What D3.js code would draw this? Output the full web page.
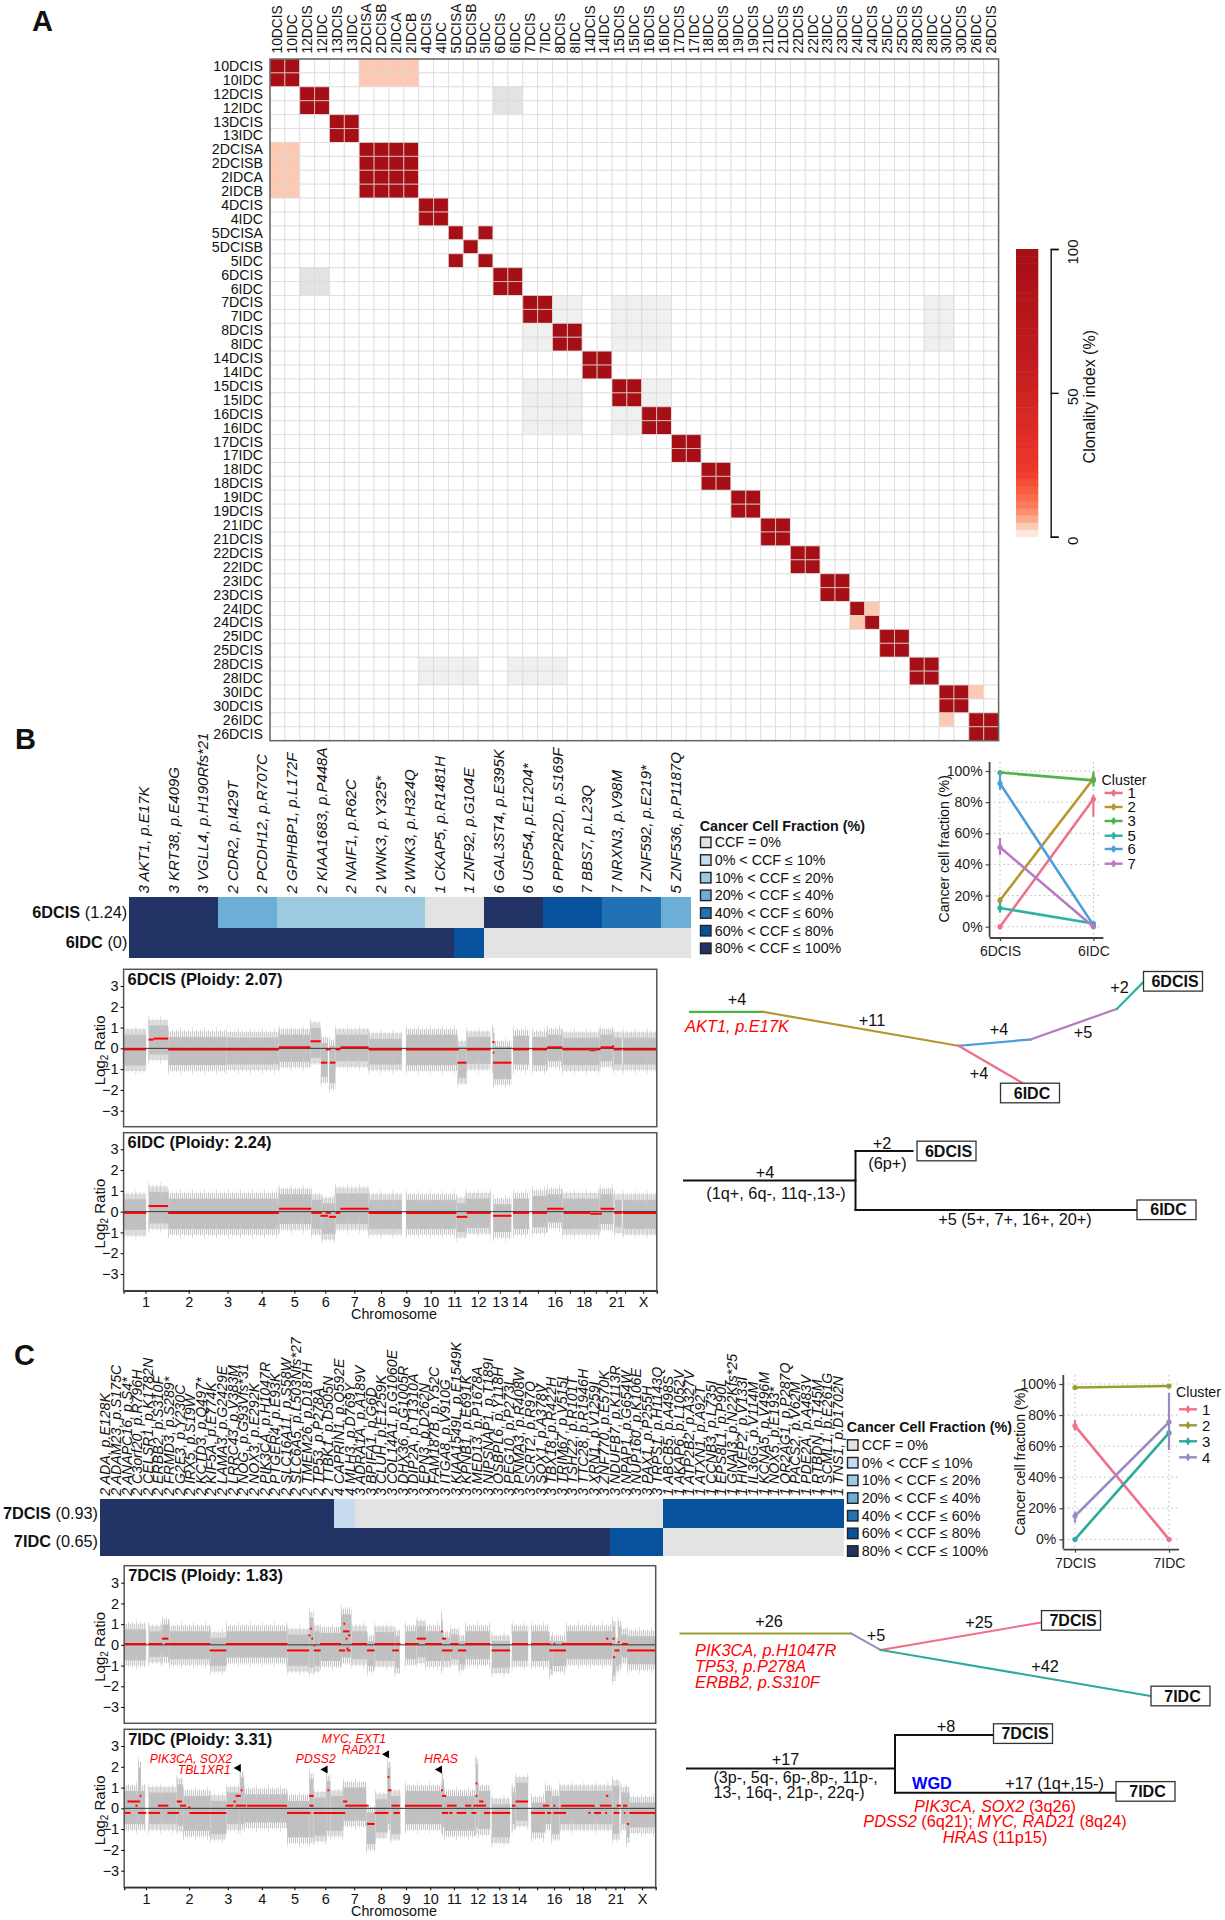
<!DOCTYPE html>
<html>
<head>
<meta charset="utf-8">
<script src="https://cdn.jsdelivr.net/npm/d3@7"></script>
<style>
  body { margin: 0; background: #fff; }
  text { font-family: "Liberation Sans", Arial, sans-serif; fill: #111; }
</style>
</head>
<body>
<div id="fig"></div>
<script>
// ---- panel A data
const heatSamples = ['10DCIS','10IDC','12DCIS','12IDC','13DCIS','13IDC','2DCISA','2DCISB','2IDCA','2IDCB','4DCIS','4IDC','5DCISA','5DCISB','5IDC','6DCIS','6IDC','7DCIS','7IDC','8DCIS','8IDC','14DCIS','14IDC','15DCIS','15IDC','16DCIS','16IDC','17DCIS','17IDC','18IDC','18DCIS','19IDC','19DCIS','21IDC','21DCIS','22DCIS','22IDC','23IDC','23DCIS','24IDC','24DCIS','25IDC','25DCIS','28DCIS','28IDC','30IDC','30DCIS','26IDC','26DCIS']
// [first row, last row, first col, last col, clonality index]
const heatValues = [
  [0,1,0,1,100],[2,3,2,3,100],[4,5,4,5,100],[6,9,6,9,100],[10,11,10,11,100],[12,12,12,12,100],[13,13,13,13,100],[14,14,14,14,100],
  [15,16,15,16,100],[17,18,17,18,100],[19,20,19,20,100],[21,22,21,22,100],[23,24,23,24,100],[25,26,25,26,100],[27,28,27,28,100],
  [29,30,29,30,100],[31,32,31,32,100],[33,34,33,34,100],[35,36,35,36,100],[37,38,37,38,100],[39,39,39,39,100],[40,40,40,40,100],
  [41,42,41,42,100],[43,44,43,44,100],[45,46,45,46,100],[47,48,47,48,100],
  [12,12,14,14,95],[14,14,12,12,95],
  [0,1,6,9,4],[6,9,0,1,4],[39,39,40,40,4],[40,40,39,39,4],[45,45,47,47,4],[47,47,45,45,4]
]
const heatGreyDark = [[2,3,15,16],[15,16,2,3]]
const heatGreyLight = [[17,18,19,20],[19,20,17,18],[17,20,23,26],[23,26,17,20],[23,24,25,26],[25,26,23,24],[17,20,44,45],[43,44,10,13],[43,44,16,19]]
const clonalityStops = [0,2,4,8,14,22,32,60,100]
const clonalityTicks = [0,50,100]

// ---- panel B data
const ccfLevels = ['CCF = 0%','0% < CCF ≤ 10%','10% < CCF ≤ 20%','20% < CCF ≤ 40%','40% < CCF ≤ 60%','60% < CCF ≤ 80%','80% < CCF ≤ 100%']
const genesB = ['3 AKT1, p.E17K','3 KRT38, p.E409G','3 VGLL4, p.H190Rfs*21','2 CDR2, p.I429T','2 PCDH12, p.R707C','2 GPIHBP1, p.L172F','2 KIAA1683, p.P448A','2 NAIF1, p.R62C','2 WNK3, p.Y325*','2 WNK3, p.H324Q','1 CKAP5, p.R1481H','1 ZNF92, p.G104E','6 GAL3ST4, p.E395K','6 USP54, p.E1204*','6 PPP2R2D, p.S169F','7 BBS7, p.L23Q','7 NRXN3, p.V98M','7 ZNF592, p.E219*','5 ZNF536, p.P1187Q']
const ccfB6DCIS = [6,6,6,3,3,2,2,2,2,2,0,0,6,6,5,5,4,4,3]
const ccfB6IDC  = [6,6,6,6,6,6,6,6,6,6,6,5,0,0,0,0,0,0,0]

const clusterB = ['1','2','3','5','6','7']
const cfB6DCIS = [0,17,99,12,92,51]
const cfB6IDC  = [82,95,94,2,1,0]
const cfB6DCISerr = [[0,0],[15,19],[97,100],[9,16],[88,100],[46,57]]
const cfB6IDCerr  = [[70.7,84.6],[92,98],[90,99.6],[1,3],[0,3],[0,1]]

// ---- panel C data
const genesC = ['2 ADA, p.E128K','2 ADAM23, p.S175C','2 ANAPC16, p.S4*','2 C3orf20, p.R796H','2 CELSR1, p.K1782N','2 ERBB2, p.S310F','2 FRMD3, p.S289*','2 G2E3, p.Y230C','2 IRX5, p.S19W','2 KCTD3, p.Q497*','2 KIF5A, p.E774K','2 LAMA3, p.G2429E','2 LRRC43, p.V383M','2 NOG, p.G93Vfs*31','2 NOX3, p.E292K','2 PIK3CA, p.H1047R','2 PTGER4, p.E93K','2 SLC16A11, p.S58W','2 SLC6A5, p.L503Nfs*27','2 TMEM26, p.D187H','2 TP53, p.P278A','2 TTBK1, p.D505N','4 CAPRIN1, p.Q592E','4 MLH3, p.D769Y','3 ADRA1A, p.A189V','3 BPIFA1, p.G6D','3 CLUH, p.E1259K','3 COL14A1, p.G1060E','3 DHX36, p.G1005R','3 DIP2A, p.T1310A','3 EPN3, p.D262N','3 FAM187B, p.Y52C','3 ITGA8, p.V910G','3 KIAA1549L, p.E1549K','3 KPNB1, p.E691K','3 MED13, p.P1678A','3 NIPSNAP1, p.T189I','3 OSBPL6, p.Y118H','3 PEG10, p.P273L','3 PNMA3, p.R408W','3 SCRT2, p.R97Q','3 SOX1, p.A378V','3 TBX18, p.R422H','3 TRIM67, p.V515I','3 TSHZ2, p.R101T','3 TTC28, p.R1946H','3 XRN1, p.V1259I','3 ZNF770, p.E570K','3 NDUFB7, p.K113R','3 NPAP1, p.G654W','3 NUP160, p.K106E','3 PAX1, p.P255H','3 TRPS1, p.H1143Q','1 ABCB5, p.A498S','1 AKAP6, p.L1052V','1 ATP2B2, p.A327V','1 ATXN1, p.A92T','1 CCNB3, p.L735I','1 EPS8L1, p.P90L','1 GNAI3, p.N22Kfs*25','1 HIVEP2, p.V133I','1 IL36G, p.V114M','1 KCNA5, p.V496M','1 NOX5, p.E193*','1 OR2AG1, p.P287Q','1 PACS2, p.V62M','1 PDE2A, p.A483V','1 RTBDN, p.T45M','1 SCML1, p.E261G','1 TNS1, p.D1702N']
const ccfC7DCIS = [6,6,6,6,6,6,6,6,6,6,6,6,6,6,6,6,6,6,6,6,6,6,1,1,0,0,0,0,0,0,0,0,0,0,0,0,0,0,0,0,0,0,0,0,0,0,0,0,0,0,0,0,0,5,5,5,5,5,5,5,5,5,5,5,5,5,5,5,5,5]
const ccfC7IDC  = [6,6,6,6,6,6,6,6,6,6,6,6,6,6,6,6,6,6,6,6,6,6,6,6,6,6,6,6,6,6,6,6,6,6,6,6,6,6,6,6,6,6,6,6,6,6,6,6,5,5,5,5,5,0,0,0,0,0,0,0,0,0,0,0,0,0,0,0,0,0]

const clusterC = ['1','2','3','4']
const cfC7DCIS = [73,97.7,0,15]
const cfC7IDC  = [0,98.7,68.5,75.5]
const cfC7DCISerr = [[70,77],[96.5,98.5],[0,0],[10.7,17.8]]
const cfC7IDCerr  = [[0,0],[98,99.5],[66,70],[57.5,94.4]]

// ---- copy number data, positions are genome Mb
const chromNames = ['1','2','3','4','5','6','7','8','9','10','11','12','13','14','15','16','17','18','19','20','21','22','X']
const chromLengths = [249,243,198,191,181,171,159,146,141,135,135,134,115,107,103,90,81,78,59,63,48,51,155]
const chromShown = ['1','2','3','4','5','6','7','8','9','10','11','12','13','14','16','18','21','X']
const log2Ticks = [-3,-2,-1,0,1,2,3]

// [start, end, low, high] extent of the probe cloud
const cloud6DCIS = [[0,128,-.95,.78],[142,253,-.42,1.22],[253,584,-.93,.67],[584,883,-.9,.64],[883,1063,-.77,.78],[1063,1122,-.58,1.1],[1122,1162,-1.5,.38],[1169,1205,-1.8,.25],[1205,1394,-.75,.78],[1394,1583,-.9,.58],[1606,1900,-.93,.78],[1900,1951,-1.55,.2],[1951,2088,-.87,.67],[2098,2110,-.9,.85],[2102,2206,-1.6,.2],[2215,2307,-.9,.73],[2324,2409,-.93,.67],[2409,2496,-.74,.78],[2496,2709,-.93,.63],[2709,2787,-.74,.78],[2787,2834,-.9,.63],[2839,3033,-.9,.63]]
const cloud6IDC = [[0,128,-1,.72],[142,253,-.69,1.07],[253,883,-.96,.75],[883,1068,-.72,.96],[1068,1127,-.96,.69],[1127,1205,-1.2,.53],[1205,1394,-.72,1],[1394,1583,-.96,.69],[1606,1894,-.96,.69],[1894,1951,-1.1,.53],[1946,2088,-.91,.75],[2102,2206,-1.1,.48],[2215,2307,-.96,.75],[2324,2409,-.88,.88],[2409,2496,-.64,.96],[2496,2709,-.96,.75],[2709,2787,-.72,.96],[2792,2834,-.88,.69],[2839,3033,-.96,.69]]
const cloud7DCIS = [[0,125,-.87,.87],[139,216,-.7,.78],[216,257,-.7,1.1],[257,492,-.82,.78],[492,581,-1.14,.46],[581,932,-.74,.78],[932,1056,-1.14,.62],[1056,1081,-1.22,1.43],[1081,1117,-1.14,.78],[1117,1237,-.9,.7],[1237,1297,-.74,1.6],[1297,1386,-.82,.78],[1386,1429,-1.14,.3],[1429,1544,-.9,.74],[1544,1573,-1.22,.54],[1602,1669,-.82,.78],[1669,1717,-.74,1.02],[1717,1808,-.9,.78],[1808,1818,-1.06,1.35],[1818,1861,-.9,.46],[1861,1909,-.82,.62],[1909,1945,-1.06,.3],[1945,2089,-.82,.78],[2097,2202,-1.22,.3],[2212,2305,-.9,.78],[2322,2425,-.9,.78],[2425,2442,-1.3,.3],[2442,2522,-1.14,.3],[2522,2786,-.82,.78],[2786,2803,-1.6,1],[2803,2817,-1.14,.2],[2817,2834,-1.06,1],[2834,2870,-.74,.62],[2870,3033,-1.06,.54]]
const cloud7IDC = [[0,120,-.88,.96],[79,96,-.3,2.1],[139,300,-.88,.88],[300,336,-.96,1.28],[336,492,-1.2,.72],[492,583,-1.36,.48],[583,660,-.88,.88],[660,684,-.88,1.6],[684,929,-.8,.8],[929,1056,-1.52,.48],[1056,1081,-1.52,1.52],[1081,1153,-1.44,.64],[1153,1177,-1.2,1.44],[1177,1249,-1.2,.72],[1249,1381,-.72,1.12],[1381,1434,-1.84,-.08],[1434,1501,-1.28,.56],[1501,1520,-.88,2.08],[1520,1577,-1.36,.72],[1602,1813,-.88,.96],[1813,1825,-1.04,1.52],[1825,2005,-1.2,.72],[2005,2020,-1.04,2.24],[2020,2089,-1.12,.96],[2097,2202,-1.52,.32],[2212,2233,-.88,.88],[2233,2305,-.72,1.36],[2322,2401,-1.28,.4],[2401,2437,-.88,.96],[2437,2485,-1.36,.72],[2485,2786,-.88,.96],[2786,2826,-1.36,1.2],[2834,2870,-.88,.88],[2865,2882,-1.52,.88],[2882,3033,-1.04,.4]]

// [start, end, log2 ratio] of the fitted segments
const seg6DCIS = [[0,128,-.05],[142,170,.42],[170,253,.47],[253,883,-.05],[883,1063,.05],[1063,1122,.34],[1122,1158,-.69],[1150,1178,-.05],[1174,1205,-.69],[1205,1233,-.05],[1233,1394,.05],[1394,1583,-.05],[1606,1906,-.05],[1899,1951,-.69],[1951,2088,-.05],[2098,2110,.3],[2100,2108,-.2],[2102,2206,-.69],[2215,2307,-.05],[2324,2409,-.05],[2409,2496,.05],[2496,2650,-.05],[2650,2685,-.09],[2685,2713,-.05],[2713,2787,.05],[2780,2790,.1],[2787,2834,-.05],[2839,3033,-.05]]
const seg6IDC = [[0,128,-.06],[142,253,.27],[253,883,-.06],[883,1068,.14],[1068,1127,-.06],[1120,1162,-.2],[1150,1178,-.06],[1169,1209,-.25],[1205,1233,-.06],[1233,1394,.14],[1394,1583,-.06],[1606,1894,-.06],[1894,1955,-.25],[1951,2088,-.06],[2102,2206,-.2],[2215,2307,-.06],[2324,2409,-.06],[2409,2503,.14],[2503,2655,-.06],[2655,2721,-.1],[2713,2791,.14],[2791,2834,-.06],[2839,3033,-.06]]
const seg7DCIS = [[0,125,.04],[139,216,.04],[233,492,.04],[581,932,.04],[1117,1237,.04],[1297,1386,.04],[1429,1544,.04],[1549,1577,.04],[1602,1681,.04],[1717,1813,.04],[1861,1909,.04],[1945,2089,.04],[2212,2305,.04],[2322,2432,.04],[2449,2461,.04],[2497,2786,.04],[2841,2875,.04],
  [216,252,.3],[1669,1722,.3],[1813,1837,.3],
  [487,583,-.27],[929,1056,-.27],[1081,1121,-.27],[1225,1261,-.27],[1273,1292,-.27],[1386,1429,-.27],[1530,1568,-.27],[1813,1873,-.27],[1904,1952,-.27],[2097,2202,-.27],[2425,2522,-.27],[2798,2826,-.27],[2870,3033,-.27],
  [1060,1070,.78],[1052,1062,.46],[1068,1078,.3],[1080,1090,-.03],[1251,1261,1.02],[1249,1285,.65],[1278,1290,.46],[1264,1274,.3],[1268,1280,-.18],[1808,1818,.65],[2750,2762,.3],[2786,2798,.3],[2790,2802,-.6],[2816,2826,.13]]
const seg7IDC = [[0,36,-.22],[79,125,-.22],[139,204,-.22],[247,312,-.22],[372,583,-.22],[929,1064,-.22],[1081,1261,-.22],[1429,1508,-.22],[1537,1573,-.22],[1813,1849,-.22],[1856,1873,-.22],[1897,1952,-.22],[1981,2010,-.22],[2053,2089,-.22],[2097,2202,-.22],[2322,2401,-.22],[2413,2437,-.22],[2449,2522,-.22],[2649,2661,-.22],[2682,2721,-.22],[2745,2755,-.22],[2793,2826,-.22],[2851,2860,-.22],[2882,3033,-.22],
  [19,91,.33],[300,329,.33],[1249,1273,.33],[2233,2305,.33],[624,636,.33],[2025,2050,.33],
  [192,252,.13],[319,353,.13],[583,624,.13],[636,696,.13],[701,929,.13],[1056,1081,.13],[1261,1395,.13],[1525,1573,.13],[1602,1813,.13],[1842,1897,.13],[1945,1981,.13],[1993,2065,.13],[2212,2233,.13],[2389,2425,.13],[2449,2461,.13],[2493,2685,.13],[2714,2781,.13],[2810,2834,.13],[2846,2870,.13],[64,76,.13],
  [636,665,.6],[1056,1081,.6],[1813,1837,.6],[2750,2762,.6],[2005,2015,.6],[88,98,.6],
  [665,675,.87],[1160,1170,.87],[1505,1525,.87],[1808,1818,.87],[1503,1513,1.5],[2005,2015,1.2],[365,378,.04],[1386,1429,-.75],[2870,2882,-.75]]

// gene calls on the 7IDC profile: [label, Mb, log2 of text, anchor]
const ampLabels = [['PIK3CA, SOX2', 617, 2.39, 'end'], ['TBL1XR1', 607, 1.86, 'end'], ['PDSS2', 1093, 2.37, 'middle'], ['MYC, EXT1', 1311, 3.35, 'middle'], ['RAD21', 1465, 2.8, 'end'], ['HRAS', 1808, 2.37, 'middle']]
const ampArrows = [[645, 1.94], [1140, 1.87], [1491, 2.6], [1793, 1.87]]

// ---- tree branches, in layout units of each diagram
const treeBcolour = [[0,15.9,14.6,15.9,'#4DB34A'],[14.6,15.9,53.7,32.9,'#B8962E'],[53.7,32.9,68.2,29.7,'#4A9EDC'],[68.2,29.7,85.4,14.4,'#B57BBE'],[85.4,14.4,90.6,1.2,'#2BB3A3'],[53.7,32.9,66.3,51.2,'#F0708A']]
const treeBblack = [[0,20.2,34.3,20.2],[34.3,5.5,34.3,35],[34.3,5.5,45.7,5.5],[34.3,35,90.8,35]]
const treeCcolour = [[.1,11.7,34.2,11.7,'#9A9E32'],[34.2,11.7,40.1,20,'#9B8AC4'],[40.1,20,72.3,6.2,'#F0708A'],[40.1,20,94.2,43,'#2BAA9A']]
const treeCblack = [[0,24.2,41.6,24.2],[41.6,7.5,41.6,36.4],[41.6,7.5,61.3,7.5],[41.6,36.4,85.8,36.4]]

// ---- styles
const ccfColours = ['#e3e3e3','#c6dbef','#9ecae1','#6baed6','#2171b5','#08519c','#223366']
const clonalityColours = ['#fff5f0','#fee0d2','#fdc9b2','#fc9272','#fb6a4a','#ef3b2c','#e32f27','#c21c1f','#a50f15']
const coloursB = ['#F0708A','#B8962E','#4DB34A','#2BB3A3','#4A9EDC','#B57BBE']
const coloursC = ['#F0708A','#9A9E32','#2BAA9A','#9B8AC4']

const width = 1225
const height = 1920

const svg = d3.select('#fig')
  .append('svg')
  .attr('width', width)
  .attr('height', height)
  .style('display', 'block')

// small helper, most of the labels here are placed the same way
function label(g, x, y, str, size, opts = {}) {
  const t = g.append('text')
    .attr('x', x)
    .attr('y', y)
    .attr('dy', opts.middle ? '0.35em' : null)
    .attr('text-anchor', opts.anchor || 'start')
    .style('font-size', size + 'px')
    .style('font-weight', opts.bold ? 'bold' : null)
    .style('font-style', opts.italic ? 'italic' : null)
    .style('fill', opts.fill || null)
    .text(str)
  if (opts.rotate) t.attr('transform', `rotate(-90, ${x}, ${y})`)
  return t
}

// panel letters
label(svg, 32, 31, 'A', 29, { bold: true })
label(svg, 15, 749, 'B', 29, { bold: true })
label(svg, 14, 1365, 'C', 29, { bold: true })

// ---- A heatmap
const heatX = d3.scaleBand().domain(heatSamples).range([270, 998.6])
const heatY = d3.scaleBand().domain(heatSamples).range([59, 740.7])
const clonalityColour = d3.scaleLinear().domain(clonalityStops).range(clonalityColours)

const heatFill = new Map()
const paint = (list, fillOf) => list.forEach(p => {
  for (let r = p[0]; r <= p[1]; r++) {
    for (let c = p[2]; c <= p[3]; c++) heatFill.set(r + '_' + c, fillOf(p))
  }
})
paint(heatGreyLight, () => '#f0f0f0')
paint(heatGreyDark, () => '#e3e3e3')
paint(heatValues, p => clonalityColour(p[4]))

const heatCells = d3.cross(d3.range(heatSamples.length), d3.range(heatSamples.length))
svg.append('g')
  .selectAll('rect')
  .data(heatCells)
  .enter()
  .append('rect')
  .attr('x', d => heatX(heatSamples[d[1]]))
  .attr('y', d => heatY(heatSamples[d[0]]))
  .attr('width', heatX.bandwidth())
  .attr('height', heatY.bandwidth())
  .attr('fill', d => heatFill.get(d[0] + '_' + d[1]) || '#fff')
  .attr('stroke', '#d8d8d8')
  .attr('stroke-opacity', 0.7)
  .attr('stroke-width', 1)

svg.append('rect')
  .attr('x', 270)
  .attr('y', 59)
  .attr('width', 728.6)
  .attr('height', 681.7)
  .attr('fill', 'none')
  .attr('stroke', '#666')
  .attr('stroke-width', 1.5)

heatSamples.forEach(s => {
  label(svg, heatX(s) + heatX.bandwidth() / 2, 53.5, s, 13.8, { middle: true, rotate: true })
  label(svg, 263, heatY(s) + heatY.bandwidth() / 2, s, 14.2, { middle: true, anchor: 'end' })
})

// colour bar of panel A
const barY = d3.scaleLinear().domain([0, 100]).range([536.7, 249])
const barSteps = d3.range(0, 100, 2.5)
svg.append('g')
  .selectAll('rect')
  .data(barSteps)
  .enter()
  .append('rect')
  .attr('x', 1016)
  .attr('y', d => barY(d + 2.5))
  .attr('width', 22.3)
  .attr('height', barY(0) - barY(2.5) + 0.5)
  .attr('fill', d => clonalityColour(d + 1.25))

const barAxis = d3.axisRight(barY).tickValues(clonalityTicks).tickSize(8).tickFormat('')
const barAxisG = svg.append('g')
  .attr('transform', 'translate(1050.7, 0)')
  .call(barAxis)
barAxisG.selectAll('path, line').attr('stroke', '#111').attr('stroke-width', 1.4)
clonalityTicks.forEach(v => {
  label(svg, 1072.7, barY(v) + (v === 100 ? 3 : 4), v, 15, { middle: true, rotate: true, anchor: 'middle' })
})
label(svg, 1089, 396.7, 'Clonality index (%)', 16, { middle: true, rotate: true, anchor: 'middle' })

// ---- CCF strip + legend, panels B and C
function drawCcf(cfg) {
  const g = svg.append('g')
  const x = d3.scaleBand().domain(d3.range(cfg.genes.length)).range([cfg.left, cfg.right])
  const y = d3.scaleBand().domain([0, 1]).range([cfg.top, cfg.bottom])
  cfg.rows.forEach((row, r) => {
    g.append('g')
      .selectAll('rect')
      .data(row)
      .enter()
      .append('rect')
      .attr('x', (d, i) => x(i))
      .attr('y', y(r))
      .attr('width', x.bandwidth() + 0.6)
      .attr('height', y.bandwidth())
      .attr('fill', d => ccfColours[d])
      .attr('shape-rendering', 'crispEdges')
    const lab = g.append('text')
      .attr('x', cfg.left - 2)
      .attr('y', y(r) + y.bandwidth() / 2)
      .attr('dy', '0.35em')
      .attr('text-anchor', 'end')
      .style('font-size', '16.3px')
    lab.append('tspan').style('font-weight', 'bold').text(cfg.rowNames[r])
    lab.append('tspan').text(' ' + cfg.rowNotes[r])
  })

  cfg.genes.forEach((name, i) => {
    label(g, x(i) + x.bandwidth() / 2, cfg.top - 3.5, name, cfg.geneSize, { middle: true, rotate: true, italic: true })
  })

  // legend
  label(g, cfg.legendX, cfg.legendTitleY, 'Cancer Cell Fraction (%)', 14.3, { bold: true })
  ccfLevels.forEach((lev, i) => {
    const cy = cfg.legendY + i * 17.67
    g.append('rect')
      .attr('x', cfg.legendX + 0.8)
      .attr('y', cy - 5.2)
      .attr('width', 10.5)
      .attr('height', 10.5)
      .attr('fill', ccfColours[i])
      .attr('stroke', '#222')
      .attr('stroke-width', 1.4)
    label(g, cfg.legendX + 15, cy, lev, 14.3, { middle: true })
  })
}

drawCcf({
  genes: genesB, rows: [ccfB6DCIS, ccfB6IDC], rowNames: ['6DCIS', '6IDC'], rowNotes: ['(1.24)', '(0)'],
  left: 129.3, right: 690.4, top: 897, bottom: 958, geneSize: 15,
  legendX: 699.7, legendTitleY: 830.7, legendY: 842.3
})
drawCcf({
  genes: genesC, rows: [ccfC7DCIS, ccfC7IDC], rowNames: ['7DCIS', '7IDC'], rowNotes: ['(0.93)', '(0.65)'],
  left: 100, right: 843.3, top: 1499.3, bottom: 1555.7, geneSize: 14.2,
  legendX: 846.7, legendTitleY: 1432, legendY: 1445
})

// ---- clonal cluster line charts
function drawClonal(cfg) {
  const g = svg.append('g')
  const x = d3.scalePoint().domain(cfg.samples).range([cfg.x0, cfg.x1])
  const y = d3.scaleLinear().domain([0, 100]).range([cfg.y0, cfg.y100])
  const yTicks = [0, 20, 40, 60, 80, 100]

  // dotted guides
  g.selectAll('line.gh')
    .data(yTicks)
    .enter()
    .append('line')
    .attr('class', 'gh')
    .attr('x1', cfg.axisX).attr('x2', cfg.gridRight)
    .attr('y1', d => y(d)).attr('y2', d => y(d))
    .attr('stroke', '#bbb').attr('stroke-dasharray', '1.5 3')
  g.selectAll('line.gv')
    .data(cfg.samples)
    .enter()
    .append('line')
    .attr('class', 'gv')
    .attr('x1', d => x(d)).attr('x2', d => x(d))
    .attr('y1', cfg.axisTop).attr('y2', cfg.axisBottom)
    .attr('stroke', '#bbb').attr('stroke-dasharray', '1.5 3')

  const yAxis = d3.axisLeft(y).tickValues(yTicks).tickFormat(d => d + '%').tickSize(4).tickPadding(3)
  const yG = g.append('g').attr('transform', `translate(${cfg.axisX}, 0)`).call(yAxis)
  yG.select('.domain').remove()
  yG.selectAll('text').style('font-size', '14px').style('fill', '#222')
  yG.selectAll('line').attr('stroke', '#444').attr('stroke-width', 1.2)

  const xAxis = d3.axisBottom(x).tickSize(3).tickPadding(5)
  const xG = g.append('g').attr('transform', `translate(0, ${cfg.axisBottom + 1})`).call(xAxis)
  xG.select('.domain').remove()
  xG.selectAll('text').style('font-size', '14px').style('fill', '#222')
  xG.selectAll('line').attr('stroke', '#444').attr('stroke-width', 1.2)

  g.append('line')
    .attr('x1', cfg.axisX).attr('x2', cfg.axisX)
    .attr('y1', cfg.axisTop).attr('y2', cfg.axisBottom)
    .attr('stroke', '#444').attr('stroke-width', 1.8)
  g.append('line')
    .attr('x1', cfg.axisX).attr('x2', cfg.axisRight)
    .attr('y1', cfg.axisBottom + 1).attr('y2', cfg.axisBottom + 1)
    .attr('stroke', '#444').attr('stroke-width', 1.8)

  label(g, cfg.titleX, (cfg.y0 + cfg.y100) / 2, 'Cancer cell fraction (%)', 14.2, { middle: true, rotate: true, anchor: 'middle' })

  // one line per cluster, with its error bars
  cfg.clusters.forEach((c, i) => {
    const col = cfg.colours[i]
    const pts = [[cfg.samples[0], cfg.first[i], cfg.firstErr[i]], [cfg.samples[1], cfg.second[i], cfg.secondErr[i]]]
    const cg = g.append('g')
    cg.selectAll('line.err')
      .data(pts)
      .enter()
      .append('line')
      .attr('class', 'err')
      .attr('x1', d => x(d[0])).attr('x2', d => x(d[0]))
      .attr('y1', d => y(d[2][0])).attr('y2', d => y(d[2][1]))
      .attr('stroke', col).attr('stroke-width', 2.2)
    cg.append('path')
      .datum(pts)
      .attr('d', d3.line().x(d => x(d[0])).y(d => y(d[1])))
      .attr('fill', 'none')
      .attr('stroke', col)
      .attr('stroke-width', 2.6)
    cg.selectAll('circle')
      .data(pts)
      .enter()
      .append('circle')
      .attr('cx', d => x(d[0]))
      .attr('cy', d => y(d[1]))
      .attr('r', 2.6)
      .attr('fill', col)
  })

  // legend
  label(g, cfg.legendX, cfg.legendTitleY, 'Cluster', 14.2)
  cfg.clusters.forEach((c, i) => {
    const cy = cfg.legendYs[i]
    g.append('line')
      .attr('x1', cfg.legendX + 3).attr('x2', cfg.legendX + 21)
      .attr('y1', cy).attr('y2', cy)
      .attr('stroke', cfg.colours[i]).attr('stroke-width', 2.4)
    g.append('line')
      .attr('x1', cfg.legendX + 12).attr('x2', cfg.legendX + 12)
      .attr('y1', cy - 3.5).attr('y2', cy + 3.5)
      .attr('stroke', cfg.colours[i]).attr('stroke-width', 2)
    g.append('circle')
      .attr('cx', cfg.legendX + 12).attr('cy', cy).attr('r', 2.4)
      .attr('fill', cfg.colours[i])
    label(g, cfg.legendX + 26, cy, c, 15, { middle: true })
  })
}

drawClonal({
  samples: ['6DCIS', '6IDC'], clusters: clusterB, colours: coloursB,
  first: cfB6DCIS, second: cfB6IDC, firstErr: cfB6DCISerr, secondErr: cfB6IDCerr,
  x0: 1000, x1: 1093.4, y0: 926.7, y100: 771,
  axisX: 989.6, axisRight: 1103.4, axisTop: 762, axisBottom: 937, gridRight: 1101,
  titleX: 944, legendX: 1101.6, legendTitleY: 785, legendYs: [793, 807, 821, 835.7, 849, 863.7]
})
drawClonal({
  samples: ['7DCIS', '7IDC'], clusters: clusterC, colours: coloursC,
  first: cfC7DCIS, second: cfC7IDC, firstErr: cfC7DCISerr, secondErr: cfC7IDCerr,
  x0: 1075, x1: 1169, y0: 1539.3, y100: 1384,
  axisX: 1063.3, axisRight: 1179, axisTop: 1375, axisBottom: 1548.7, gridRight: 1178,
  titleX: 1020, legendX: 1176, legendTitleY: 1396.7, legendYs: [1409.3, 1425.3, 1441.3, 1457.3]
})

// ---- copy number profiles
const genomeLength = d3.sum(chromLengths)
const chromStarts = chromLengths.map((d, i) => d3.sum(chromLengths.slice(0, i)))
const chromMids = chromLengths.map((d, i) => chromStarts[i] + d / 2)

function drawProfile(cfg) {
  const g = svg.append('g')
  const x = d3.scaleLinear().domain([0, genomeLength]).range([cfg.left, cfg.right])
  const y = d3.scaleLinear().domain([-3, 3]).range([cfg.yMinus3, cfg.yPlus3])

  g.append('rect')
    .attr('x', cfg.left).attr('y', cfg.top)
    .attr('width', cfg.right - cfg.left).attr('height', cfg.bottom - cfg.top)
    .attr('fill', '#fff')

  g.append('g')
    .selectAll('rect')
    .data(cfg.cloud)
    .enter()
    .append('rect')
    .attr('x', d => x(d[0]))
    .attr('width', d => x(d[1]) - x(d[0]))
    .attr('y', d => y(d[3]) + 2.5)
    .attr('height', d => Math.max(0, y(d[2]) - y(d[3]) - 5))
    .attr('fill', '#c0c0c0')

  // comb strokes along both edges so the cloud ends in loose probes, not a hard edge
  const edges = cfg.cloud.flatMap(d => [[d[0], d[1], d[2]], [d[0], d[1], d[3]]])
  const comb = (w, dash, colour) => g.append('g')
    .selectAll('line')
    .data(edges)
    .enter()
    .append('line')
    .attr('x1', d => x(d[0]))
    .attr('x2', d => x(d[1]))
    .attr('y1', d => y(d[2]))
    .attr('y2', d => y(d[2]))
    .attr('stroke', colour)
    .attr('stroke-width', w)
    .attr('stroke-dasharray', dash)
  comb(6, '1 1', '#c0c0c0')
  comb(9, '0.7 3.3', '#c8c8c8')
  comb(14, '0.6 11.4', '#d0d0d0')

  g.append('line')
    .attr('x1', cfg.left).attr('x2', cfg.right)
    .attr('y1', y(0)).attr('y2', y(0))
    .attr('stroke', '#333').attr('stroke-width', 1)

  g.append('g')
    .selectAll('line')
    .data(cfg.seg)
    .enter()
    .append('line')
    .attr('x1', d => x(d[0]))
    .attr('x2', d => x(d[1]))
    .attr('y1', d => y(d[2]))
    .attr('y2', d => y(d[2]))
    .attr('stroke', '#f00')
    .attr('stroke-width', 2)

  g.append('rect')
    .attr('x', cfg.left).attr('y', cfg.top)
    .attr('width', cfg.right - cfg.left).attr('height', cfg.bottom - cfg.top)
    .attr('fill', 'none')
    .attr('stroke', '#555')
    .attr('stroke-width', 1.5)

  const yAxis = d3.axisLeft(y).tickValues(log2Ticks).tickSize(3).tickPadding(2).tickFormat(d3.format('d'))
  const yG = g.append('g').attr('transform', `translate(${cfg.left}, 0)`).call(yAxis)
  yG.select('.domain').remove()
  yG.selectAll('text').style('font-size', '14.5px').style('fill', '#111')

  const yt = g.append('text')
    .attr('transform', `translate(${cfg.left - 24}, ${y(0) + 2}) rotate(-90)`)
    .attr('text-anchor', 'middle')
    .attr('dy', '0.35em')
    .style('font-size', '15px')
  yt.append('tspan').text('Log')
  yt.append('tspan').attr('dy', 3).style('font-size', '10px').text('2')
  yt.append('tspan').attr('dy', -3).text(' Ratio')

  label(g, cfg.left + 4, cfg.top + 15.7, cfg.title, 16.4, { bold: true })

  if (cfg.showAxis) {
    const xAxis = d3.axisBottom(x)
      .tickValues(chromMids)
      .tickSize(3)
      .tickPadding(3)
      .tickFormat((d, i) => chromShown.includes(chromNames[i]) ? chromNames[i] : '')
    const xG = g.append('g').attr('transform', `translate(0, ${cfg.bottom})`).call(xAxis)
    xG.select('.domain').attr('stroke', '#333').attr('stroke-width', 1.5)
    xG.selectAll('text').style('font-size', '14.5px').style('fill', '#111')
    label(g, 394, cfg.bottom + 28.5, 'Chromosome', 14.3, { anchor: 'middle' })
  }
  return { x, y, g }
}

drawProfile({ title: '6DCIS (Ploidy: 2.07)', cloud: cloud6DCIS, seg: seg6DCIS, left: 123.6, right: 656.8, top: 969.3, bottom: 1126.7, yPlus3: 986, yMinus3: 1110.7 })
drawProfile({ title: '6IDC (Ploidy: 2.24)', cloud: cloud6IDC, seg: seg6IDC, left: 123.6, right: 656.8, top: 1132.7, bottom: 1290.7, yPlus3: 1149.3, yMinus3: 1274, showAxis: true })
drawProfile({ title: '7DCIS (Ploidy: 1.83)', cloud: cloud7DCIS, seg: seg7DCIS, left: 124.2, right: 655.7, top: 1565.7, bottom: 1723.3, yPlus3: 1582.7, yMinus3: 1707 })
const idc7 = drawProfile({ title: '7IDC (Ploidy: 3.31)', cloud: cloud7IDC, seg: seg7IDC, left: 124.2, right: 655.7, top: 1729.3, bottom: 1887.3, yPlus3: 1746, yMinus3: 1870.7, showAxis: true })

ampLabels.forEach(d => {
  label(idc7.g, idc7.x(d[1]), idc7.y(d[2]), d[0], 12.2, { middle: true, anchor: d[3], italic: true, fill: '#f00' })
})
idc7.g.append('g')
  .selectAll('path')
  .data(ampArrows)
  .enter()
  .append('path')
  .attr('transform', d => `translate(${idc7.x(d[0])}, ${idc7.y(d[1])})`)
  .attr('d', 'M-3.6,0L3.6,-4L3.6,4Z')
  .attr('fill', '#000')

// ---- trees
function drawTree(cfg) {
  const g = svg.append('g')
  const tx = d3.scaleLinear().domain([0, 100]).range([cfg.x0, cfg.x0 + 500])
  const ty = d3.scaleLinear().domain([0, 100]).range([cfg.y0, cfg.y0 + 200])

  g.append('g')
    .selectAll('line')
    .data(cfg.edges)
    .enter()
    .append('line')
    .attr('x1', d => tx(d[0]))
    .attr('y1', d => ty(d[1]))
    .attr('x2', d => tx(d[2]))
    .attr('y2', d => ty(d[3]))
    .attr('stroke', d => d[4] || '#111')
    .attr('stroke-width', cfg.lineWidth)
    .attr('stroke-linecap', 'square')

  cfg.labels.forEach(d => {
    const t = label(g, tx(d[0]), ty(d[1]), '', d[3] || 16.3, { middle: true, anchor: d[4] || 'middle', fill: d[5] || null, bold: d[6] })
    d[2].forEach(part => {
      t.append('tspan').style('font-style', part[1] ? 'italic' : null).text(part[0])
    })
  })

  cfg.boxes.forEach(d => {
    g.append('rect')
      .attr('x', tx(d[0]) - 29.5)
      .attr('y', ty(d[1]) - 9.8)
      .attr('width', 59)
      .attr('height', 19.6)
      .attr('fill', '#fff')
      .attr('stroke', '#333')
      .attr('stroke-width', 1.3)
    label(g, tx(d[0]) + 2, ty(d[1]), d[2], 16, { middle: true, anchor: 'middle', bold: true })
  })
}

const plain = s => [[s, false]]
const red = '#f00'

drawTree({
  x0: 690, y0: 980, lineWidth: 2.2, edges: treeBcolour,
  labels: [
    [9.4, 9.5, plain('+4')], [36.4, 20, plain('+11')], [61.8, 24.5, plain('+4')], [78.6, 26, plain('+5')],
    [85.9, 3.5, plain('+2')], [57.8, 46.5, plain('+4')], [9.4, 23, [['AKT1, p.E17K', true]], 16.4, 'middle', red]
  ],
  boxes: [[96.6, 0.65, '6DCIS'], [68, 56.5, '6IDC']]
})
drawTree({
  x0: 684, y0: 1140, lineWidth: 2, edges: treeBblack,
  labels: [
    [16.2, 16, plain('+4')], [18.4, 26.4, plain('(1q+, 6q-, 11q-,13-)')], [39.6, 1.5, plain('+2')],
    [40.7, 11.5, plain('(6p+)')], [66.2, 39.5, plain('+5 (5+, 7+, 16+, 20+)')]
  ],
  boxes: [[52.5, 5.5, '6DCIS'], [96.5, 34.9, '6IDC']]
})
drawTree({
  x0: 680, y0: 1610, lineWidth: 2, edges: treeCcolour,
  labels: [
    [17.8, 5.5, plain('+26')], [39.2, 12.5, plain('+5')], [59.8, 6.2, plain('+25')], [73, 27.9, plain('+42')],
    [3, 19.9, [['PIK3CA, p.H1047R', true]], 16.4, 'start', red],
    [3, 28, [['TP53, p.P278A', true]], 16.4, 'start', red],
    [3, 36.2, [['ERBB2, p.S310F', true]], 16.4, 'start', red]
  ],
  boxes: [[78.2, 5.2, '7DCIS'], [100.1, 43, '7IDC']]
})
drawTree({
  x0: 687, y0: 1720, lineWidth: 2, edges: treeCblack,
  labels: [
    [19.7, 19.5, plain('+17')],
    [5.3, 28.9, plain('(3p-, 5q-, 6p-,8p-, 11p-,'), 16, 'start'],
    [5.3, 36.4, plain('13-, 16q-, 21p-, 22q-)'), 16, 'start'],
    [51.8, 3, plain('+8')],
    [49, 31.4, plain('WGD'), 16.3, 'middle', '#00f', true],
    [73.5, 31.7, plain('+17 (1q+,15-)')],
    [61.6, 43, [['PIK3CA, SOX2', true], [' (3q26)', false]], 16.3, 'middle', red],
    [61.6, 50.5, [['PDSS2', true], [' (6q21); ', false], ['MYC, RAD21', true], [' (8q24)', false]], 16.3, 'middle', red],
    [61.6, 58.4, [['HRAS', true], [' (11p15)', false]], 16.3, 'middle', red]
  ],
  boxes: [[67.2, 6.8, '7DCIS'], [91.7, 35.7, '7IDC']]
})
</script>
</body>
</html>
